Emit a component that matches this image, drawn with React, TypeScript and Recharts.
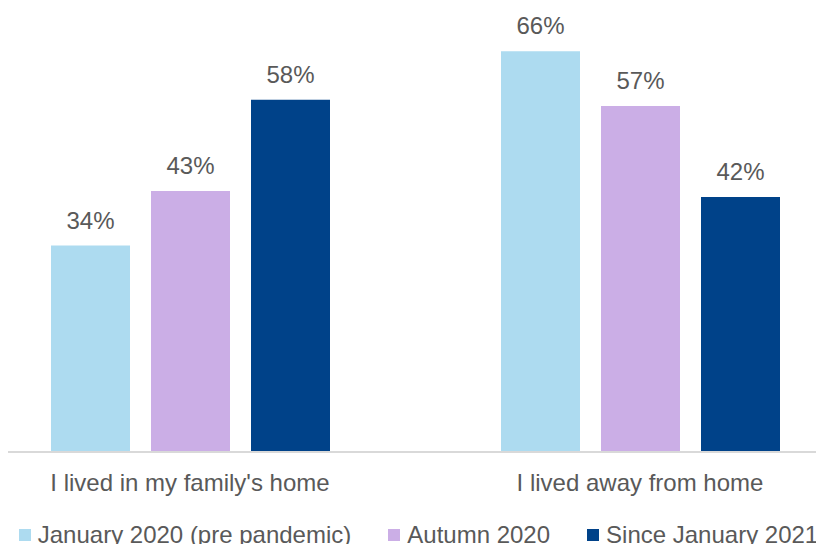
import { BarChart, Bar, XAxis, YAxis, Legend, LabelList } from 'recharts';

const categories = ["I lived in my family's home", 'I lived away from home'];
const january2020 = [34, 66];
const autumn2020 = [43, 57];
const since2021 = [58, 42];

const seriesNames = ['January 2020 (pre pandemic)', 'Autumn 2020', 'Since January 2021'];
const seriesColors = ['#ADDBF0', '#CBAEE6', '#004289'];

const data = categories.map((name, i) => ({
  name,
  jan: january2020[i],
  autumn: autumn2020[i],
  since: since2021[i],
}));

const FONT = '"Liberation Sans", Arial, sans-serif';
const TEXT = '#595959';

function CategoryTick({ x, y, payload }: any) {
  return (
    <text x={x} y={y + 39} textAnchor="middle" fill={TEXT} fontSize={24} fontFamily={FONT}>
      {payload.value}
    </text>
  );
}

function LegendContent() {
  return (
    <div
      style={{
        display: 'flex',
        justifyContent: 'center',
        gap: 37,
        paddingLeft: 7,
        height: 30,
        lineHeight: '30px',
        fontSize: 24,
        fontFamily: FONT,
        color: TEXT,
        whiteSpace: 'nowrap',
      }}
    >
      {seriesNames.map((n, i) => (
        <span key={n}>
          <span
            style={{
              display: 'inline-block',
              width: 12,
              height: 12,
              marginRight: 7,
              marginBottom: 2,
              background: seriesColors[i],
            }}
          />
          {n}
        </span>
      ))}
    </div>
  );
}

const pct = (v: any) => `${v}%`;

export default function App() {
  const keys = ['jan', 'autumn', 'since'];
  return (
    <div style={{ width: 816, height: 536, overflow: 'hidden', position: 'relative' }}>
      <div style={{ position: 'absolute', left: -43, top: 0 }}>
        <BarChart
          width={900}
          height={536}
          data={data}
          margin={{ top: 19, right: 0, left: 0, bottom: 0 }}
          barSize={79}
          barGap={21}
        >
          <XAxis
            dataKey="name"
            height={62}
            tickLine={false}
            tickSize={0}
            tickMargin={0}
            axisLine={{ stroke: '#D9D9D9', strokeWidth: 2 }}
            tick={<CategoryTick />}
            interval={0}
          />
          <YAxis hide domain={[0, 70]} />
          <Legend
            verticalAlign="bottom"
            content={<LegendContent />}
            wrapperStyle={{ bottom: -6, left: 0, width: 900 }}
          />
          {keys.map((k, i) => (
            <Bar key={k} dataKey={k} name={seriesNames[i]} fill={seriesColors[i]} isAnimationActive={false}>
              <LabelList
                dataKey={k}
                position="top"
                offset={17}
                formatter={pct}
                fill={TEXT}
                fontSize={24}
                fontFamily={FONT}
              />
            </Bar>
          ))}
        </BarChart>
      </div>
    </div>
  );
}
